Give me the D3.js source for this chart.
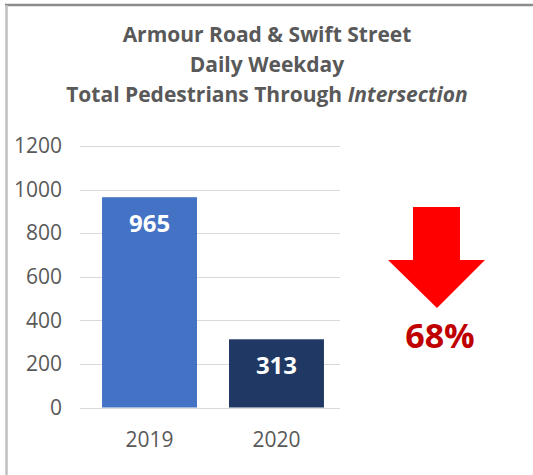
<!DOCTYPE html>
<html>
<head>
<meta charset="utf-8">
<script src="https://cdn.jsdelivr.net/npm/d3@7"></script>
<style>
  html, body { margin: 0; padding: 0; background: #fff; }
  svg { display: block; }
  text { font-family: "Open Sans", "Noto Sans", sans-serif; }
</style>
</head>
<body>
<svg id="chart" width="533" height="475"></svg>
<script>
// Weekday pedestrian counts at Armour Road & Swift Street
const years = ["2019", "2020"];
const pedestrians = [965, 313];
const barColors = ["#4472C4", "#203864"];
const yTicks = [0, 200, 400, 600, 800, 1000, 1200];
const titleLines = ["Armour Road & Swift Street", "Daily Weekday"];
const changeLabel = "68%";

const svg = d3.select("#chart");
const W = 533, H = 475;
const FONT = "\"Open Sans\", \"Noto Sans\", sans-serif";

// frame edges (top and left)
svg.append("line").attr("x1", 5).attr("x2", W).attr("y1", 5).attr("y2", 5)
  .attr("stroke", "#8c8c8c").attr("stroke-width", 2.5);
svg.append("line").attr("x1", 6.5).attr("x2", 6.5).attr("y1", 5).attr("y2", H)
  .attr("stroke", "#bfbfbf").attr("stroke-width", 2.5);

// title
const title = svg.append("g").attr("fill", "#595959").attr("font-weight", "bold")
  .attr("font-size", 21).attr("text-anchor", "middle");
titleLines.forEach((t, i) => {
  title.append("text").attr("x", 267).attr("y", 42 + i * 30).text(t);
});
const t3 = title.append("text").attr("x", 267).attr("y", 102);
t3.append("tspan").text("Total Pedestrians Through ");
t3.append("tspan").attr("font-style", "italic").text("Intersection");

// scales
const gridX0 = 80, gridX1 = 340;
const y = d3.scaleLinear().domain([0, 1200]).range([407.5, 146]);
const x = d3.scaleBand().domain(years).range([83, 343])
  .paddingInner(0.252).paddingOuter(0.15);

// gridlines
svg.append("g").selectAll("line").data(yTicks).join("line")
  .attr("x1", gridX0).attr("x2", gridX1)
  .attr("y1", d => Math.round(y(d)) + 0.5).attr("y2", d => Math.round(y(d)) + 0.5)
  .attr("stroke", "#d9d9d9").attr("stroke-width", 1);

// y axis labels
const yAxis = svg.append("g").attr("transform", "translate(62,0)")
  .call(d3.axisLeft(y).tickValues(yTicks).tickFormat(d3.format("d"))
    .tickSize(0).tickPadding(0));
yAxis.select(".domain").remove();
yAxis.selectAll("text").attr("fill", "#595959").attr("font-size", 21)
  .attr("font-family", FONT);

// x axis labels
const xAxis = svg.append("g").attr("transform", "translate(0,432)")
  .call(d3.axisBottom(x).tickSize(0).tickPadding(0));
xAxis.select(".domain").remove();
xAxis.selectAll("text").attr("fill", "#595959").attr("font-size", 21)
  .attr("font-family", FONT);

// bars
const data = years.map((yr, i) => ({ yr, v: pedestrians[i], c: barColors[i] }));
svg.append("g").selectAll("rect").data(data).join("rect")
  .attr("x", d => x(d.yr)).attr("width", x.bandwidth())
  .attr("y", d => y(d.v)).attr("height", d => y(0) - y(d.v))
  .attr("fill", d => d.c);

// value labels inside bar tops
svg.append("g").selectAll("text").data(data).join("text")
  .attr("x", d => x(d.yr) + x.bandwidth() / 2)
  .attr("y", d => y(d.v) + 34.5)
  .attr("text-anchor", "middle").attr("fill", "#fff")
  .attr("font-weight", "bold").attr("font-size", 24)
  .text(d => d.v);

// downward arrow with percentage change
const arrow = d3.path();
arrow.moveTo(413, 207);
arrow.lineTo(460, 207);
arrow.lineTo(460, 260);
arrow.lineTo(485, 260);
arrow.lineTo(437, 308);
arrow.lineTo(388, 260);
arrow.lineTo(413, 260);
arrow.closePath();
svg.append("path").attr("d", arrow.toString()).attr("fill", "#ff0000");

svg.append("text").attr("x", 440).attr("y", 348)
  .attr("text-anchor", "middle").attr("fill", "#c00000")
  .attr("font-weight", "bold").attr("font-size", 34)
  .text(changeLabel);
</script>
</body>
</html>
